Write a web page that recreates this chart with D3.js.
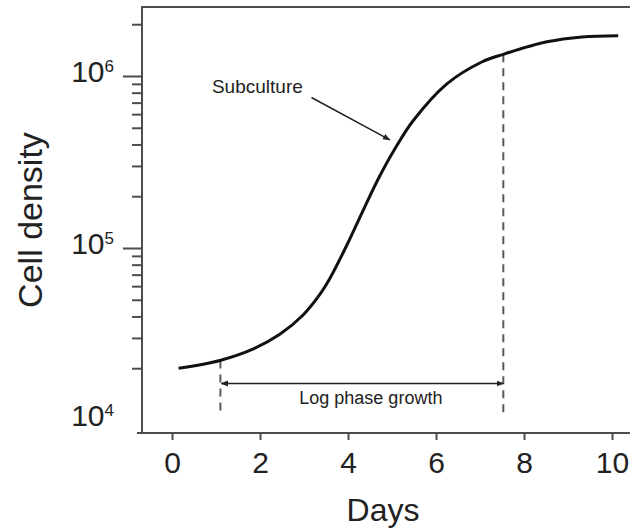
<!DOCTYPE html>
<html>
<head>
<meta charset="utf-8">
<script src="https://cdn.jsdelivr.net/npm/d3@7"></script>
<style>
body { margin: 0; background: #fff; }
text { font-family: 'Liberation Sans', Arial, Helvetica, sans-serif; fill: #222; }
</style>
</head>
<body>
<svg id="chart" width="630" height="531"></svg>
<script>
// growth curve
var days = [0.15, 1.09, 1.85, 2.45, 2.98, 3.36, 3.59, 3.97, 4.35, 4.73, 5.11, 5.48, 6.24, 7.04, 7.53, 8.52, 9.32, 10.14]
var density = [2.0e4, 2.22e4, 2.59e4, 3.15e4, 4.08e4, 5.37e4, 6.67e4, 1.034e5, 1.668e5, 2.647e5, 3.94e5, 5.49e5, 8.97e5, 1.206e6, 1.337e6, 1.58e6, 1.688e6, 1.715e6]

var dayTicks = [0, 2, 4, 6, 8, 10]
var decadeTicks = [1e4, 1e5, 1e6]
var decadeLabels = ['4', '5', '6']
var minorTicks = [2e4, 3e4, 4e4, 5e4, 6e4, 7e4, 8e4, 9e4, 2e5, 3e5, 4e5, 5e5, 6e5, 7e5, 8e5, 9e5, 2e6]

// log phase marks (start day, end day) and where the dashes meet the curve
var logPhaseDays = [1.1, 7.53]
var logPhaseTop = [2.22e4, 1.337e6]
var dashBottom = 1.07e4
var logPhaseLevel = 1.63e4

// subculture note: label, arrow start, arrow tip
var subLabel = [1.94, 8.0e5]
var subArrow = [[3.17, 7.5e5], [4.95, 4.25e5]]

var plotLeft = 142, plotTop = 7, plotBottom = 433, plotRight = 630

var svg = d3.select('#chart')

var x = d3.scaleLinear().domain([0, 10]).range([172, 612])
var y = d3.scaleLog().domain([1e4, 1e6]).range([420, 76])

var defs = svg.append('defs')
defs.append('marker')
    .attr('id', 'head')
    .attr('viewBox', '0 0 10 10')
    .attr('refX', 9).attr('refY', 5)
    .attr('markerWidth', 5).attr('markerHeight', 5)
    .attr('orient', 'auto-start-reverse')
    .append('path')
    .attr('d', 'M0,1 L10,5 L0,9 z')
    .attr('fill', '#222')

// frame
var axisColor = '#4d4d4d'
svg.append('line').attr('x1', plotLeft).attr('x2', plotLeft).attr('y1', plotTop).attr('y2', plotBottom)
    .attr('stroke', axisColor).attr('stroke-width', 2)
svg.append('line').attr('x1', plotLeft - 1).attr('x2', plotRight).attr('y1', plotTop).attr('y2', plotTop)
    .attr('stroke', axisColor).attr('stroke-width', 2)
svg.append('line').attr('x1', plotLeft - 5).attr('x2', plotRight).attr('y1', plotBottom).attr('y2', plotBottom)
    .attr('stroke', axisColor).attr('stroke-width', 2)

// x axis
var xAxis = svg.append('g')
    .attr('transform', 'translate(0,' + plotBottom + ')')
    .call(d3.axisBottom(x).tickValues(dayTicks).tickSize(7).tickPadding(12))
xAxis.select('.domain').remove()
xAxis.selectAll('line').attr('stroke', axisColor).attr('stroke-width', 2)
xAxis.selectAll('text').attr('font-size', 30).attr('font-family', null).attr('fill', '#222')

// y axis, major + minor ticks
var yMajor = svg.append('g')
    .attr('transform', 'translate(' + plotLeft + ',0)')
    .call(d3.axisLeft(y).tickValues(decadeTicks.slice(1)).tickSize(19).tickFormat(''))
var yMinor = svg.append('g')
    .attr('transform', 'translate(' + plotLeft + ',0)')
    .call(d3.axisLeft(y).tickValues(minorTicks).tickSize(10).tickFormat(''))
svg.selectAll('.domain').remove()
yMajor.selectAll('line').attr('stroke', axisColor).attr('stroke-width', 2)
yMinor.selectAll('line').attr('stroke', axisColor).attr('stroke-width', 2)

var yLab = svg.append('g').selectAll('text')
    .data(decadeTicks)
    .enter().append('text')
    .attr('x', 114)
    .attr('y', function(d) { return y(d) + 6 })
    .attr('text-anchor', 'end')
    .attr('font-size', 30)
yLab.append('tspan').text('10')
yLab.append('tspan')
    .attr('font-size', 17)
    .attr('dy', -10)
    .text(function(d, i) { return decadeLabels[i] })

// axis titles
svg.append('text')
    .attr('x', 383).attr('y', 521)
    .attr('text-anchor', 'middle')
    .attr('font-size', 32)
    .text('Days')
svg.append('text')
    .attr('transform', 'translate(42,220) rotate(-90)')
    .attr('text-anchor', 'middle')
    .attr('font-size', 34)
    .text('Cell density')

// dashed markers for the log phase
svg.append('g').selectAll('line')
    .data(logPhaseDays)
    .enter().append('line')
    .attr('x1', function(d) { return x(d) })
    .attr('x2', function(d) { return x(d) })
    .attr('y1', function(d, i) { return y(logPhaseTop[i]) })
    .attr('y2', y(dashBottom))
    .attr('stroke', '#5a5a5a')
    .attr('stroke-width', 2)
    .attr('stroke-dasharray', '8,6')

svg.append('line')
    .attr('x1', x(logPhaseDays[0]) + 1).attr('x2', x(logPhaseDays[1]))
    .attr('y1', y(logPhaseLevel)).attr('y2', y(logPhaseLevel))
    .attr('stroke', '#222').attr('stroke-width', 1.5)
    .attr('marker-start', 'url(#head)')
    .attr('marker-end', 'url(#head)')

svg.append('text')
    .attr('x', (x(logPhaseDays[0]) + x(logPhaseDays[1])) / 2 + 9)
    .attr('y', y(logPhaseLevel) + 20)
    .attr('text-anchor', 'middle')
    .attr('font-size', 18)
    .text('Log phase growth')

// subculture annotation
svg.append('text')
    .attr('x', x(subLabel[0])).attr('y', y(subLabel[1]))
    .attr('text-anchor', 'middle')
    .attr('font-size', 19)
    .text('Subculture')
svg.append('line')
    .attr('x1', x(subArrow[0][0])).attr('y1', y(subArrow[0][1]))
    .attr('x2', x(subArrow[1][0])).attr('y2', y(subArrow[1][1]))
    .attr('stroke', '#222').attr('stroke-width', 1.5)
    .attr('marker-end', 'url(#head)')

// growth curve
var line = d3.line()
    .x(function(d) { return x(d[0]) })
    .y(function(d) { return y(d[1]) })
    .curve(d3.curveCatmullRom.alpha(0.5))

svg.append('path')
    .datum(d3.zip(days, density))
    .attr('d', line)
    .attr('fill', 'none')
    .attr('stroke', '#111')
    .attr('stroke-width', 3)
</script>
</body>
</html>
